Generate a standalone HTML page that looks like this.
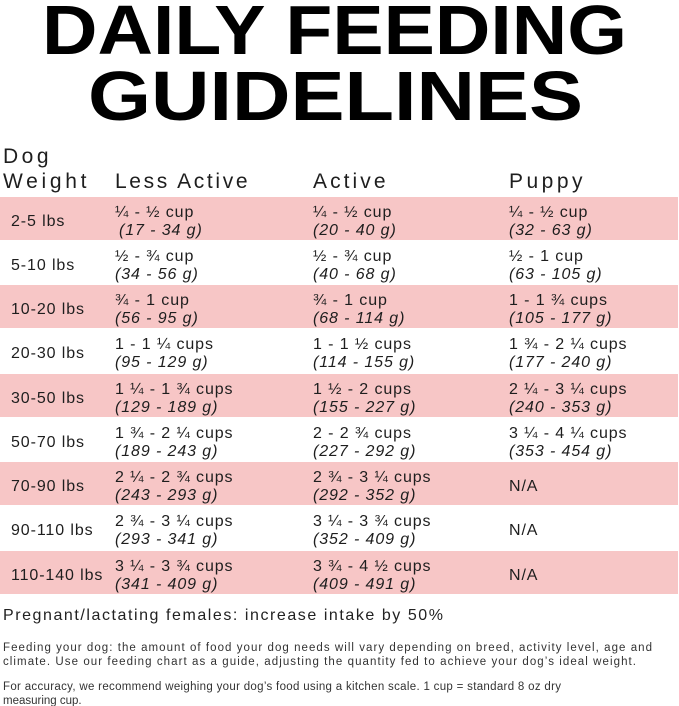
<!DOCTYPE html>
<html><head><meta charset="utf-8"><style>
html,body{margin:0;padding:0;background:#fff;}
svg{display:block}
text{font-family:"Liberation Sans",sans-serif;fill:#1e1e1e}
.c{font-size:16px;letter-spacing:0.9px}
.i{font-size:16px;letter-spacing:0.9px;font-style:italic}
.h{font-size:21px;letter-spacing:0.5px}
.p{font-size:11.5px;fill:#333}
</style></head><body>
<svg width="679" height="706" viewBox="0 0 679 706">
<text x="42" y="54" font-size="70" font-weight="bold" textLength="585" lengthAdjust="spacingAndGlyphs" style="fill:#000">DAILY FEEDING</text>
<text x="88" y="120" font-size="70" font-weight="bold" textLength="495" lengthAdjust="spacingAndGlyphs" style="fill:#000">GUIDELINES</text>

<text class="h" x="3" y="163" textLength="46">Dog</text>
<text class="h" x="3" y="188" textLength="84">Weight</text>
<text class="h" x="115" y="188" textLength="133">Less Active</text>
<text class="h" x="313" y="188" textLength="73">Active</text>
<text class="h" x="509" y="188" textLength="74">Puppy</text>

<g>
<rect x="0" y="197" width="678" height="43" style="fill:#f7c6c6"/>
<rect x="0" y="285" width="678" height="43" style="fill:#f7c6c6"/>
<rect x="0" y="374" width="678" height="43" style="fill:#f7c6c6"/>
<rect x="0" y="462" width="678" height="43" style="fill:#f7c6c6"/>
<rect x="0" y="551" width="678" height="43" style="fill:#f7c6c6"/>
</g>

<g>
<text class="c" x="11" y="226">2-5 lbs</text>
<text class="c" x="115" y="217">¼ - ½ cup</text><text class="i" x="119" y="235">(17 - 34 g)</text>
<text class="c" x="313" y="217">¼ - ½ cup</text><text class="i" x="313" y="235">(20 - 40 g)</text>
<text class="c" x="509" y="217">¼ - ½ cup</text><text class="i" x="509" y="235">(32 - 63 g)</text>
<text class="c" x="11" y="270">5-10 lbs</text>
<text class="c" x="115" y="261">½ - ¾ cup</text><text class="i" x="115" y="279">(34 - 56 g)</text>
<text class="c" x="313" y="261">½ - ¾ cup</text><text class="i" x="313" y="279">(40 - 68 g)</text>
<text class="c" x="509" y="261">½ - 1 cup</text><text class="i" x="509" y="279">(63 - 105 g)</text>
<text class="c" x="11" y="314">10-20 lbs</text>
<text class="c" x="115" y="305">¾ - 1 cup</text><text class="i" x="115" y="323">(56 - 95 g)</text>
<text class="c" x="313" y="305">¾ - 1 cup</text><text class="i" x="313" y="323">(68 - 114 g)</text>
<text class="c" x="509" y="305">1 - 1 ¾ cups</text><text class="i" x="509" y="323">(105 - 177 g)</text>
<text class="c" x="11" y="358">20-30 lbs</text>
<text class="c" x="115" y="349">1 - 1 ¼ cups</text><text class="i" x="115" y="367">(95 - 129 g)</text>
<text class="c" x="313" y="349">1 - 1 ½ cups</text><text class="i" x="313" y="367">(114 - 155 g)</text>
<text class="c" x="509" y="349">1 ¾ - 2 ¼ cups</text><text class="i" x="509" y="367">(177 - 240 g)</text>
<text class="c" x="11" y="403">30-50 lbs</text>
<text class="c" x="115" y="394">1 ¼ - 1 ¾ cups</text><text class="i" x="115" y="412">(129 - 189 g)</text>
<text class="c" x="313" y="394">1 ½ - 2 cups</text><text class="i" x="313" y="412">(155 - 227 g)</text>
<text class="c" x="509" y="394">2 ¼ - 3 ¼ cups</text><text class="i" x="509" y="412">(240 - 353 g)</text>
<text class="c" x="11" y="447">50-70 lbs</text>
<text class="c" x="115" y="438">1 ¾ - 2 ¼ cups</text><text class="i" x="115" y="456">(189 - 243 g)</text>
<text class="c" x="313" y="438">2 - 2 ¾ cups</text><text class="i" x="313" y="456">(227 - 292 g)</text>
<text class="c" x="509" y="438">3 ¼ - 4 ¼ cups</text><text class="i" x="509" y="456">(353 - 454 g)</text>
<text class="c" x="11" y="491">70-90 lbs</text>
<text class="c" x="115" y="482">2 ¼ - 2 ¾ cups</text><text class="i" x="115" y="500">(243 - 293 g)</text>
<text class="c" x="313" y="482">2 ¾ - 3 ¼ cups</text><text class="i" x="313" y="500">(292 - 352 g)</text>
<text class="c" x="509" y="491">N/A</text>
<text class="c" x="11" y="535">90-110 lbs</text>
<text class="c" x="115" y="526">2 ¾ - 3 ¼ cups</text><text class="i" x="115" y="544">(293 - 341 g)</text>
<text class="c" x="313" y="526">3 ¼ - 3 ¾ cups</text><text class="i" x="313" y="544">(352 - 409 g)</text>
<text class="c" x="509" y="535">N/A</text>
<text class="c" x="11" y="580">110-140 lbs</text>
<text class="c" x="115" y="571">3 ¼ - 3 ¾ cups</text><text class="i" x="115" y="589">(341 - 409 g)</text>
<text class="c" x="313" y="571">3 ¾ - 4 ½ cups</text><text class="i" x="313" y="589">(409 - 491 g)</text>
<text class="c" x="509" y="580">N/A</text>
</g>

<text x="3" y="620" font-size="16" textLength="440" style="fill:#222">Pregnant/lactating females: increase intake by 50%</text>
<text class="p" x="3" y="651" textLength="649">Feeding your dog: the amount of food your dog needs will vary depending on breed, activity level, age and</text>
<text class="p" x="3" y="665" textLength="633">climate. Use our feeding chart as a guide, adjusting the quantity fed to achieve your dog’s ideal weight.</text>
<text class="p" x="3" y="690" textLength="558">For accuracy, we recommend weighing your dog’s food using a kitchen scale. 1 cup = standard 8 oz dry</text>
<text class="p" x="3" y="704">measuring cup.</text>
</svg>
</body></html>
